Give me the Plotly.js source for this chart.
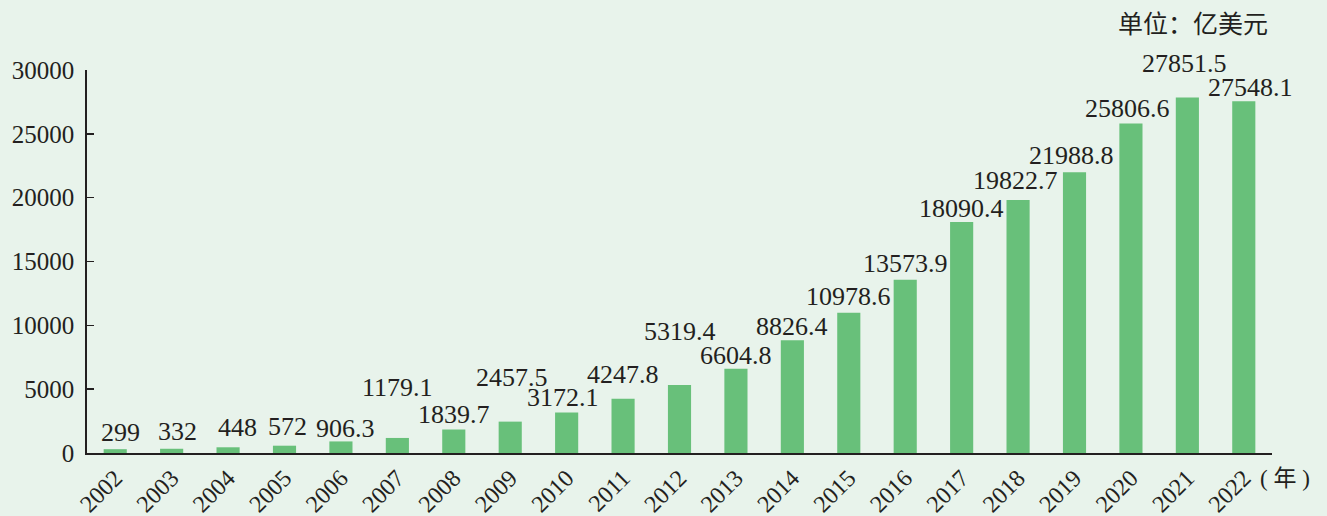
<!DOCTYPE html>
<html><head><meta charset="utf-8">
<script src="https://cdn.plot.ly/plotly-3.0.1.min.js"></script>
<style>html,body{margin:0;padding:0;background:#e8f3eb;}</style>
</head><body><div id="chart" style="width:1327px;height:516px;"></div>
<script>
const years = ['2002','2003','2004','2005','2006','2007','2008','2009','2010','2011','2012','2013','2014','2015','2016','2017','2018','2019','2020','2021','2022'];
const values = [299,332,448,572,906.3,1179.1,1839.7,2457.5,3172.1,4247.8,5319.4,6604.8,8826.4,10978.6,13573.9,18090.4,19822.7,21988.8,25806.6,27851.5,27548.1];
const labels = ['299','332','448','572','906.3','1179.1','1839.7','2457.5','3172.1','4247.8','5319.4','6604.8','8826.4','10978.6','13573.9','18090.4','19822.7','21988.8','25806.6','27851.5','27548.1'];
const yTicks = [0,5000,10000,15000,20000,25000,30000];
// label pixel offsets (layout only)
const labelDy = [17,17,20,19,13,50,15,44,15,24,54,13,14,16,16,14,19,17,15,34,14];
const labelDx = [5,6,9,3,5,0,0,2,-4,0,0,0,0,0,0,0,-3,-3,-3,-3,7];

const ink = '#231f20';
const font = 'Liberation Serif, Times New Roman, serif';
const ann = labels.map((t,i)=>({
  x: i, y: values[i], xref:'x', yref:'y', text:t, showarrow:false,
  yanchor:'middle', xanchor:'center', yshift: labelDy[i], xshift: labelDx[i],
  font:{family:font, size:26, color:ink}
}));
ann.push({xref:'paper', yref:'paper', x:1.0, y:-0.06, xanchor:'left', yanchor:'middle', xshift:-14,
  text:'<span style="font-family:Liberation Serif">( </span>年<span style="font-family:Liberation Serif"> )</span>', showarrow:false, font:{family:'Noto Sans CJK SC', size:23, color:ink}});
ann.push({xref:'paper', yref:'paper', x:0.9985, y:1.0, xanchor:'right', yanchor:'bottom', yshift:28,
  text:'单位：亿美元', showarrow:false, font:{family:'Noto Sans CJK SC', size:25, color:ink}});

Plotly.newPlot('chart', [{
  type:'bar', x:years, y:values, marker:{color:'#68c07a'}, hoverinfo:'none'
}], {
  width:1327, height:516,
  paper_bgcolor:'#e8f3eb', plot_bgcolor:'#e8f3eb',
  margin:{l:87, r:55, t:70, b:63},
  bargap:0.59, showlegend:false,
  xaxis:{type:'category', range:[-0.5,20.5], showline:true, linecolor:ink, linewidth:1.5,
    ticks:'', tickangle:-45, tickfont:{family:font, size:24, color:ink}, showgrid:false, zeroline:false},
  yaxis:{range:[0,30000], tickvals:yTicks, ticktext:yTicks.map(String), showline:true, linecolor:ink, linewidth:1.8,
    ticks:'inside', ticklen:7, tickcolor:ink, tickwidth:1.5, ticklabelstandoff:6,
    tickfont:{family:font, size:25, color:ink}, showgrid:false, zeroline:false},
  annotations: ann
}, {staticPlot:true});
</script></body></html>
